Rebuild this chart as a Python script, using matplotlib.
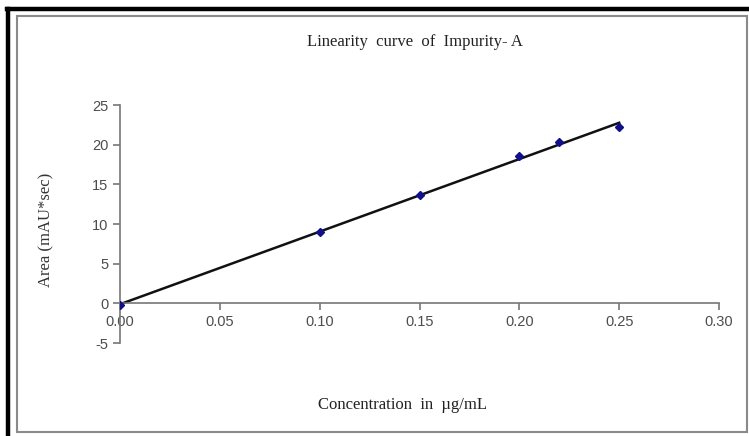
import numpy as np
import matplotlib
matplotlib.use("Agg")
import matplotlib.pyplot as plt
from matplotlib.lines import Line2D
from matplotlib.patches import Rectangle

plt.rcParams["axes.unicode_minus"] = False

# concentration (ug/mL) and peak area
conc = [0.00, 0.10, 0.15, 0.20, 0.22, 0.25]
area = [-0.2, 9.0, 13.6, 18.6, 20.3, 22.2]

x_ticks = [0.00, 0.05, 0.10, 0.15, 0.20, 0.25, 0.30]
y_ticks = [-5, 0, 5, 10, 15, 20, 25]

W, H = 749, 436
fig = plt.figure(figsize=(W / 100, H / 100), dpi=100)
fig.patch.set_facecolor("white")

# inner grey frame + thick black border on top and left
fig.patches.append(Rectangle((17 / W, 1 - 432 / H), (747 - 17) / W, (432 - 16) / H,
                             transform=fig.transFigure, fill=False,
                             edgecolor="#8a8a8a", linewidth=1.5))
fig.lines.append(Line2D([7 / W, 1], [1 - 9.5 / H, 1 - 9.5 / H], transform=fig.transFigure,
                        color="black", linewidth=3.2))
fig.lines.append(Line2D([8 / W, 8 / W], [0, 1 - 9.5 / H], transform=fig.transFigure,
                        color="black", linewidth=3.2))

ax = fig.add_axes([120 / W, 1 - 343 / H, (719 - 120) / W, (343 - 105) / H])
ax.set_facecolor("none")

# linear trendline through the points
slope, intercept = np.polyfit(conc, area, 1)
xfit = np.array([conc[0], conc[-1]])
ax.plot(xfit, slope * xfit + intercept, color="#111111", linewidth=1.8, zorder=2)
ax.plot(conc, area, linestyle="none", marker="D", markersize=4,
        color="#10108a", zorder=3)

ax.set_xlim(0, 0.30)
ax.set_ylim(-5, 25)
ax.set_xticks(x_ticks)
ax.set_xticklabels(["%.2f" % v for v in x_ticks])
ax.set_yticks(y_ticks)

for s in ["top", "right"]:
    ax.spines[s].set_visible(False)
ax.spines["bottom"].set_position(("data", 0))
for s in ["left", "bottom"]:
    ax.spines[s].set_color("#777777")
    ax.spines[s].set_linewidth(1.2)

ax.tick_params(direction="out", length=5, width=1.2, color="#777777",
               labelcolor="#4d4d4d", labelsize=10.5)
for lab in ax.get_xticklabels() + ax.get_yticklabels():
    lab.set_fontfamily("Liberation Sans")

serif = "Liberation Serif"
fig.text(415 / W, 1 - 42 / H, "Linearity  curve  of  Impurity- A", ha="center", va="center",
         fontsize=12, family=serif, color="#222222")
fig.text(403 / W, 1 - 405 / H, "Concentration  in  \u00b5g/mL", ha="center", va="center",
         fontsize=12, family=serif, color="#222222")
fig.text(46 / W, 1 - 230 / H, "Area (mAU*sec)", ha="center", va="center", rotation=90,
         fontsize=12, family=serif, color="#333333")

fig.savefig("out.png", dpi=100)
